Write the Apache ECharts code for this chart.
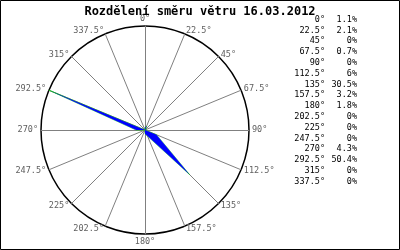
<!DOCTYPE html>
<html>
<head>
<meta charset="utf-8">
<script src="https://cdn.jsdelivr.net/npm/echarts@6/dist/echarts.min.js"></script>
<style>
html,body{margin:0;padding:0;background:#fff;}
#c{width:400px;height:250px;}
</style>
</head>
<body>
<div id="c"></div>
<script>
const titleText = 'Rozdělení směru větru 16.03.2012';
const directions = ['0°','22.5°','45°','67.5°','90°','112.5°','135°','157.5°','180°','202.5°','225°','247.5°','270°','292.5°','315°','337.5°'];
const values = [1.1, 2.1, 0, 0.7, 0, 6, 30.5, 3.2, 1.8, 0, 0, 0, 4.3, 50.4, 0, 0];
const percentLabels = ['1.1%','2.1%','0%','0.7%','0%','6%','30.5%','3.2%','1.8%','0%','0%','0%','4.3%','50.4%','0%','0%'];

const maxVal = Math.max.apply(null, values);
// radar goes counter-clockwise: order 0, 337.5, 315, ... 22.5 to get clockwise compass
const order = directions.map((d, i) => (directions.length - i) % directions.length);
const indicators = order.map(i => ({ name: directions[i], min: 0, max: maxVal }));
const radarValues = order.map(i => values[i]);

const mono = 'DejaVu Sans Mono';
const smallFont = '8.5px "' + mono + '"';
const legendTexts = [];
directions.forEach((d, i) => {
  const yy = 19.5 + i * 10.8;
  legendTexts.push({
    type: 'text', x: 325, y: yy,
    style: { text: d, font: smallFont, fill: '#000', align: 'right', verticalAlign: 'middle' }
  });
  legendTexts.push({
    type: 'text', x: 357, y: yy,
    style: { text: percentLabels[i], font: smallFont, fill: '#000', align: 'right', verticalAlign: 'middle' }
  });
});

const chart = echarts.init(document.getElementById('c'), null, { renderer: 'canvas' });
chart.setOption({
  animation: false,
  backgroundColor: '#fff',
  title: {
    text: titleText, left: 'center', top: 1,
    textStyle: { fontFamily: mono, fontWeight: 'bold', fontSize: 12, color: '#000' }
  },
  radar: {
    center: [145, 130],
    radius: 104,
    startAngle: 90,
    shape: 'circle',
    splitNumber: 1,
    indicator: indicators,
    nameGap: 3,
    axisName: { color: '#606060', fontFamily: mono, fontSize: 8.5 },
    splitLine: { lineStyle: { color: '#000', width: 1.5 } },
    splitArea: { show: false },
    axisLine: { lineStyle: { color: '#808080', width: 1 } },
    axisTick: { show: false },
    axisLabel: { show: false }
  },
  series: [{
    type: 'radar',
    symbol: 'none',
    data: [{
      value: radarValues,
      lineStyle: { color: '#00cc00', width: 0.6 },
      areaStyle: { color: '#0000ff', opacity: 1 }
    }]
  }],
  graphic: [
    { type: 'rect', shape: { x: 0.5, y: 0.5, width: 399, height: 249 }, style: { fill: 'none', stroke: '#000', lineWidth: 1 }, z: 100 }
  ].concat(legendTexts)
});
</script>
</body>
</html>
